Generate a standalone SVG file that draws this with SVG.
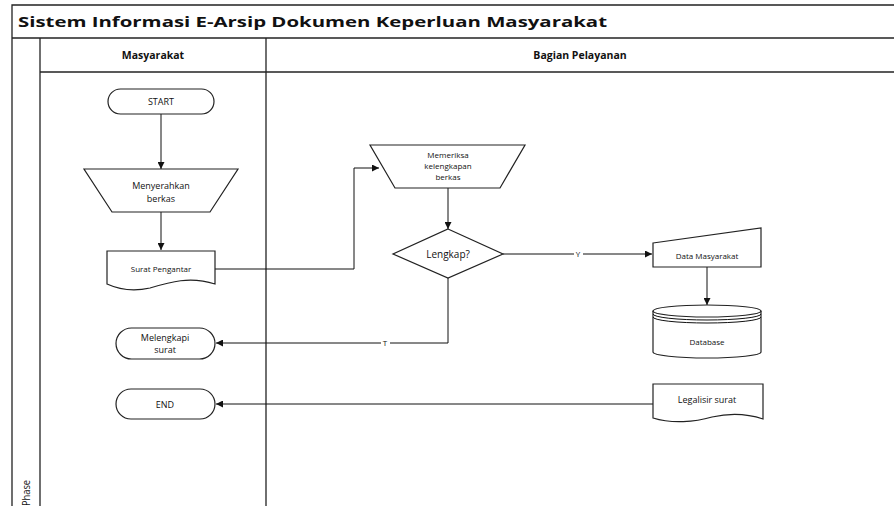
<svg xmlns="http://www.w3.org/2000/svg" width="894" height="506" viewBox="0 0 894 506">
<style>
.frame{fill:none;stroke:#222;stroke-width:1.3}
.shape{fill:#fff;stroke:#222;stroke-width:1.2}
.conn{fill:none;stroke:#111;stroke-width:1}
.t{font-family:"Open Sans","Liberation Sans",sans-serif;fill:#111;text-anchor:middle}
.lbl{font-family:"Open Sans","Liberation Sans",sans-serif;fill:#111;text-anchor:middle;font-size:8px}
</style>
<defs>
<marker id="arr" viewBox="0 0 10 10" refX="10" refY="5" markerWidth="7" markerHeight="7" orient="auto" markerUnits="userSpaceOnUse">
<path d="M0,0 L10,5 L0,10 z" fill="#111"/>
</marker>
</defs>
<rect width="894" height="506" fill="#fff"/>
<g id="pool">
<path class="frame" d="M12,506 V5 H894"/>
<path class="frame" d="M12,38 H894"/>
<path class="frame" d="M40,38 V506"/>
<path class="frame" d="M40,72 H894"/>
<path class="frame" d="M266,38 V506"/>
<text x="18" y="27" font-family="'Open Sans','Liberation Sans',sans-serif" font-weight="bold" font-size="14.5" fill="#111" textLength="589" lengthAdjust="spacingAndGlyphs">Sistem Informasi E-Arsip Dokumen Keperluan Masyarakat</text>
<text class="t" x="153" y="59" font-size="10.5" font-weight="bold">Masyarakat</text>
<text class="t" x="580" y="59" font-size="10.5" font-weight="bold">Bagian Pelayanan</text>
<text class="t" transform="translate(30,493) rotate(-90)" font-size="10" textLength="26" lengthAdjust="spacingAndGlyphs">Phase</text>
</g>
<g id="connectors">
<path class="conn" d="M161,114 V169" marker-end="url(#arr)"/>
<path class="conn" d="M161,212 V250" marker-end="url(#arr)"/>
<path class="conn" d="M215,269 H354 V168 H379" marker-end="url(#arr)"/>
<path class="conn" d="M448,188 V229" marker-end="url(#arr)"/>
<path class="conn" d="M503,254 H652" marker-end="url(#arr)"/>
<path class="conn" d="M707,267 V305" marker-end="url(#arr)"/>
<path class="conn" d="M448,278 V343 H216" marker-end="url(#arr)"/>
<path class="conn" d="M653,404 H216" marker-end="url(#arr)"/>
<rect x="574" y="250" width="9" height="8" fill="#fff"/>
<text class="lbl" x="578" y="257">Y</text>
<rect x="381" y="339" width="9" height="8" fill="#fff"/>
<text class="lbl" x="385" y="346">T</text>
</g>
<g id="start">
<rect class="shape" x="108" y="89" width="106" height="25" rx="12.5"/>
<text class="t" x="161" y="105" font-size="9">START</text>
</g>
<g id="menyerahkan">
<path class="shape" d="M84,169 H238 L210,212 H112 Z"/>
<text class="t" x="161" y="189" font-size="9">Menyerahkan</text>
<text class="t" x="161" y="201.5" font-size="9">berkas</text>
</g>
<g id="surat-pengantar">
<path class="shape" d="M107,251 H215 V284 C190,276 170,282 150,288 C132,292 118,289 107,284 Z"/>
<text class="t" x="161" y="272" font-size="8">Surat Pengantar</text>
</g>
<g id="memeriksa">
<path class="shape" d="M370,145 H525 L500,188 H395 Z"/>
<text class="t" x="448" y="158" font-size="8">Memeriksa</text>
<text class="t" x="448" y="169.2" font-size="8">kelengkapan</text>
<text class="t" x="448" y="180.4" font-size="8">berkas</text>
</g>
<g id="lengkap">
<path class="shape" d="M448,229 L503,254 L448,278 L393,254 Z"/>
<text class="t" x="448" y="258" font-size="10">Lengkap?</text>
</g>
<g id="data-masyarakat">
<path class="shape" d="M653,243 L761,228 V267 H653 Z"/>
<text class="t" x="707" y="259" font-size="8">Data Masyarakat</text>
</g>
<g id="database">
<path class="shape" d="M653,311 V352 A54,6 0 0 0 761,352 V311"/>
<ellipse class="shape" cx="707" cy="311" rx="54" ry="6"/>
<path class="conn" d="M653,314 A54,6 0 0 0 761,314"/>
<path class="conn" d="M653,317 A54,6 0 0 0 761,317"/>
<text class="t" x="707" y="345" font-size="8">Database</text>
</g>
<g id="melengkapi">
<rect class="shape" x="116" y="328" width="99" height="31" rx="15.5"/>
<text class="t" x="165" y="340.5" font-size="9">Melengkapi</text>
<text class="t" x="165" y="353" font-size="9">surat</text>
</g>
<g id="end">
<rect class="shape" x="116" y="389" width="99" height="30" rx="15"/>
<text class="t" x="165" y="408" font-size="9">END</text>
</g>
<g id="legalisir">
<path class="shape" d="M653,384 H763 V419 C745,413 730,413 712,417 C695,422 672,424 653,418 Z"/>
<text class="t" x="707" y="403" font-size="9">Legalisir surat</text>
</g>
</svg>
